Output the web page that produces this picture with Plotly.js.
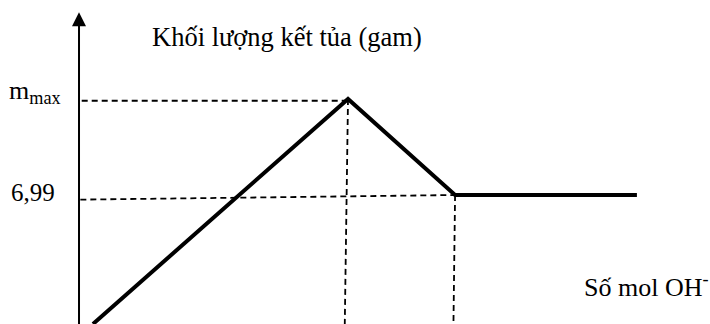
<!DOCTYPE html>
<html>
<head>
<meta charset="utf-8">
<script src="https://cdn.plot.ly/plotly-3.0.1.min.js"></script>
<style>html,body{margin:0;padding:0;background:#fff;}#chart{width:710px;height:324px;}</style>
</head>
<body>
<div id="chart"></div>
<script>
// Schematic data (arbitrary mol units on x, mass on y)
const molOH = [0.052, 1.0, 1.398, 2.074];
const mass = [0, 12.2, 6.99, 6.99];
const mMax = 12.2;
const mFinal = 6.99;
const xPeak = 1.0;
const xCorner = 1.398;
const yLabelTexts = ["m<sub>max</sub>", "6,99"];
const yTitle = "Khối lượng kết tủa (gam)";
const xTitle = "Số mol OH<sup>-</sup>";

const fam = "'Times New Roman', 'Liberation Serif', serif";
const dash = {color: "#000", width: 1.8, dash: "6px,4px"};

const trace = {
  x: molOH, y: mass, type: "scatter", mode: "lines",
  line: {color: "#000", width: 4}, hoverinfo: "skip", showlegend: false
};

const layout = {
  width: 710, height: 324,
  margin: {l: 0, r: 0, t: 0, b: 0},
  paper_bgcolor: "#fff", plot_bgcolor: "#fff",
  font: {family: fam, color: "#000"},
  xaxis: {range: [-0.2937, 2.3457], visible: false, fixedrange: true},
  yaxis: {range: [0, 17.56], visible: false, fixedrange: true},
  shapes: [
    {type: "line", xref: "x", yref: "y", x0: 0.01, x1: xPeak, y0: mMax - 0.1, y1: mMax - 0.1, line: dash},
    {type: "line", xref: "x", yref: "y", x0: 0.005, x1: xCorner, y0: mFinal - 0.25, y1: mFinal, line: dash},
    {type: "line", xref: "x", yref: "y", x0: xPeak, x1: xPeak - 0.012, y0: mMax, y1: 0, line: dash},
    {type: "line", xref: "x", yref: "y", x0: xCorner, x1: xCorner - 0.006, y0: mFinal, y1: 0, line: dash}
  ],
  annotations: [
    {x: 0, y: 16.9, ax: 0, ay: -1, xref: "x", yref: "y", axref: "x", ayref: "y",
     text: "", showarrow: true, arrowhead: 2, arrowsize: 1.4, arrowwidth: 2, arrowcolor: "#000"},
    {x: 0.773, y: 15.56, xref: "x", yref: "y", text: yTitle, showarrow: false,
     xanchor: "center", yanchor: "middle", font: {family: fam, size: 26.5, color: "#000"}},
    {x: -0.07, y: mMax, xref: "x", yref: "y", text: yLabelTexts[0], showarrow: false,
     xanchor: "right", yanchor: "middle", xshift: 3, yshift: 7, font: {family: fam, size: 26, color: "#000"}},
    {x: -0.082, y: mFinal, xref: "x", yref: "y", text: yLabelTexts[1], showarrow: false,
     xanchor: "right", yanchor: "middle", yshift: 3, font: {family: fam, size: 25, color: "#000"}},
    {x: 1.877, y: 2.11, xref: "x", yref: "y", text: xTitle, showarrow: false,
     xanchor: "left", yanchor: "middle", xshift: -2, font: {family: fam, size: 26, color: "#000"}}
  ]
};

Plotly.newPlot("chart", [trace], layout, {staticPlot: true, displayModeBar: false});
</script>
</body>
</html>
